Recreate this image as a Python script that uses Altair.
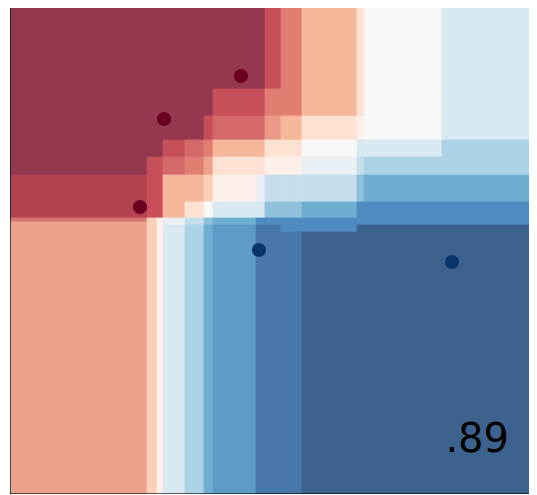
import altair as alt
import pandas as pd

# Column and row edges of the decision-region grid (plot units)
x_edges = [11, 147, 157, 163, 185, 204, 213, 256, 265, 281, 302, 357, 364, 442, 541]
y_edges = [4, 89, 116, 140, 157, 175, 202, 218, 222, 225, 232, 493]

# Shade codes for each cell, one string per row (top to bottom)
grid_rows = [
    "AAAAAAAACEGIWL",
    "AAAAAACCEEGIWL",
    "AAAAACDDXGIJWL",
    "AAACDEGGIIWLLN",
    "ACCDEFIIJJKMNN",
    "BCCGGHJKMMMOPP",
    "BCCGIWLLOOPRRR",
    "ZHJKMOPRRRRRRR",
    "FHJKMOPRRRRRRR",
    "FHJLNPQSSRRTTT",
    "FHJLNPQSSSTTTT",
]

shades = {
    "A": "#943850", "B": "#b3424f", "C": "#c64f59", "D": "#d4696a",
    "E": "#e07f71", "X": "#e99a86", "F": "#eca28a", "G": "#f5b89b",
    "H": "#f9cfb8", "I": "#fde2d4", "J": "#fdf0ea", "W": "#f7f7f7",
    "K": "#e8f0f6", "L": "#d8e9f2", "M": "#c4dfeb", "N": "#acd2e5",
    "O": "#8fc0dc", "P": "#6eaed1", "Q": "#5e9cc8", "R": "#4f8bc0",
    "S": "#4777ab", "T": "#3d628d", "Z": "#d3766f",
}

# Sample points
pt_x = [241, 164, 140, 259, 452]
pt_y = [76, 119, 207, 250, 262]
pt_class = ["red", "red", "red", "blue", "blue"]

score_text = [".89"]
score_x = [509]
score_y = [452]

cells = []
for ri, row in enumerate(grid_rows):
    for ci, code in enumerate(row):
        cells.append({
            "x0": x_edges[ci], "x1": x_edges[ci + 1],
            "y0": y_edges[ri], "y1": y_edges[ri + 1],
            "color": shades[code],
        })
cells_df = pd.DataFrame(cells)
pts_df = pd.DataFrame({"x": pt_x, "y": pt_y, "cls": pt_class})
txt_df = pd.DataFrame({"x": score_x, "y": score_y, "t": score_text})

xs = alt.Scale(domain=[x_edges[0], x_edges[-1]], nice=False, zero=False)
ys = alt.Scale(domain=[y_edges[0], y_edges[-1]], nice=False, zero=False, reverse=True)

rects = alt.Chart(cells_df).mark_rect(strokeWidth=0.8).encode(
    x=alt.X("x0:Q", scale=xs, axis=None),
    x2="x1:Q",
    y=alt.Y("y0:Q", scale=ys, axis=None),
    y2="y1:Q",
    color=alt.Color("color:N", scale=None),
    stroke=alt.Stroke("color:N", scale=None),
)

points = alt.Chart(pts_df).mark_circle(size=200, opacity=1).encode(
    x=alt.X("x:Q", scale=xs, axis=None),
    y=alt.Y("y:Q", scale=ys, axis=None),
    color=alt.Color("cls:N", scale=alt.Scale(domain=["red", "blue"], range=["#6b0020", "#07346a"]), legend=None),
)

text = alt.Chart(txt_df).mark_text(
    font="DejaVu Sans", fontSize=40, align="right", baseline="alphabetic", color="black"
).encode(
    x=alt.X("x:Q", scale=xs, axis=None),
    y=alt.Y("y:Q", scale=ys, axis=None),
    text="t:N",
)

chart = alt.layer(rects, points, text).properties(
    width=530, height=489,
    autosize=alt.AutoSizeParams(type="none"),
    padding={"left": 3, "top": -4, "right": -12, "bottom": 1},
).configure_view(stroke="black", strokeWidth=2)

chart.save("out.html", embed_options={"renderer": "svg", "actions": False})
